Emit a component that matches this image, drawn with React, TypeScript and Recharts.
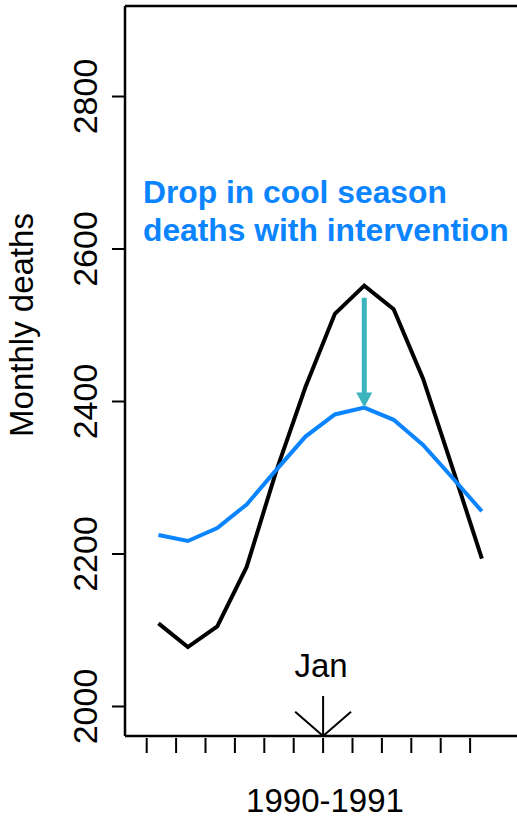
import { LineChart, Line, XAxis, YAxis, ReferenceLine, ReferenceDot } from 'recharts';

const FONT = '"Liberation Sans", Arial, Helvetica, sans-serif';

// months of the 1990-1991 season, ticks sit at month starts, points a little after
const months = ['Jul', 'Aug', 'Sep', 'Oct', 'Nov', 'Dec', 'Jan', 'Feb', 'Mar', 'Apr', 'May', 'Jun'];
const monthTicks = [0, 1, 2, 3, 4, 5, 6, 7, 8, 9, 10, 11];
const pointOffset = 0.4;

const observedDeaths = [2109, 2078, 2105, 2183, 2308, 2419, 2515, 2552, 2521, 2430, 2313, 2194];
const interventionDeaths = [2225, 2217, 2234, 2265, 2310, 2354, 2383, 2392, 2376, 2343, 2300, 2256];

const yTicks = [2000, 2200, 2400, 2600, 2800];
const yDomain: [number, number] = [1961.3, 2918.7];
const xDomain: [number, number] = [-0.738, 12.595];

const BLUE = '#0A84FF';
const TEAL = '#3BB4BE';

const data = months.map((m, i) => ({
  month: m,
  x: monthTicks[i] + pointOffset,
  observed: observedDeaths[i],
  intervention: interventionDeaths[i],
}));

function XTick(props: any) {
  const { x, y } = props;
  return <line x1={x} y1={y + 2} x2={x} y2={y + 17} stroke="#000" strokeWidth={2} />;
}

function YTick(props: any) {
  const { x, y, payload } = props;
  const bx = x - 15;
  return (
    <text
      x={bx}
      y={y}
      transform={`rotate(-90 ${bx} ${y})`}
      textAnchor="middle"
      fontFamily={FONT}
      fontSize={34}
      fill="#000"
    >
      {payload.value}
    </text>
  );
}

function ArrowShape(props: any) {
  const { x1, y1, x2, y2 } = props;
  const head = 15;
  return (
    <g>
      <line x1={x1} y1={y1} x2={x2} y2={y2 - head + 1} stroke={TEAL} strokeWidth={5} />
      <polygon points={`${x2 - 8},${y2 - head} ${x2 + 8},${y2 - head} ${x2},${y2}`} fill={TEAL} />
    </g>
  );
}

export default function App() {
  return (
    <div style={{ position: 'absolute', left: 0, top: 0, width: 517, height: 820, background: '#fff' }}>
      <LineChart width={517} height={820} data={data} margin={{ top: 6, right: 0, bottom: 0, left: 0 }}>
        <XAxis
          type="number"
          dataKey="x"
          domain={xDomain}
          allowDataOverflow
          ticks={monthTicks}
          interval={0}
          tickSize={0}
          tickMargin={0}
          tickLine={false}
          tick={<XTick />}
          axisLine={{ stroke: '#000', strokeWidth: 2.5 }}
          height={84}
          label={(p: any) => {
            const vb = p.viewBox;
            return (
              <text x={vb.x + vb.width / 2 + 4} y={812} textAnchor="middle" fontFamily={FONT} fontSize={33} fill="#000">
                1990-1991
              </text>
            );
          }}
        />
        <YAxis
          type="number"
          domain={yDomain}
          allowDataOverflow
          ticks={yTicks}
          interval={0}
          tickSize={13}
          tickMargin={0}
          tickLine={{ stroke: '#000', strokeWidth: 2 }}
          tick={<YTick />}
          axisLine={{ stroke: '#000', strokeWidth: 2.5 }}
          width={125}
          label={() => (
            <text x={33} y={325} transform="rotate(-90 33 325)" textAnchor="middle" fontFamily={FONT} fontSize={33} fill="#000">
              Monthly deaths
            </text>
          )}
        />
        <ReferenceLine y={yDomain[1]} stroke="#000" strokeWidth={2.5} ifOverflow="visible" />
        <Line type="linear" dataKey="observed" stroke="#000" strokeWidth={4} dot={false} isAnimationActive={false} />
        <Line type="linear" dataKey="intervention" stroke={BLUE} strokeWidth={4} dot={false} isAnimationActive={false} />
        <ReferenceLine
          segment={[{ x: 7 + pointOffset, y: 2536 }, { x: 7 + pointOffset, y: 2392 }]}
          shape={ArrowShape}
          ifOverflow="visible"
        />
        <ReferenceLine segment={[{ x: 6, y: 2013.8 }, { x: 6, y: 1961.3 }]} stroke="#000" strokeWidth={2} ifOverflow="visible" />
        <ReferenceLine segment={[{ x: 5.05, y: 1993 }, { x: 6, y: 1961.3 }]} stroke="#000" strokeWidth={2} ifOverflow="visible" />
        <ReferenceLine segment={[{ x: 6.95, y: 1993 }, { x: 6, y: 1961.3 }]} stroke="#000" strokeWidth={2} ifOverflow="visible" />
        <ReferenceDot
          x={6}
          y={2039}
          ifOverflow="visible"
          shape={(p: any) => (
            <text x={p.cx - 2} y={p.cy} textAnchor="middle" fontFamily={FONT} fontSize={33} fill="#000">
              Jan
            </text>
          )}
        />
        <ReferenceDot
          x={-0.126}
          y={2660.3}
          ifOverflow="visible"
          shape={(p: any) => (
            <text x={p.cx} y={p.cy} fontFamily={FONT} fontSize={31.8} fontWeight="bold" fill={BLUE}>
              <tspan x={p.cx}>Drop in cool season</tspan>
              <tspan x={p.cx} dy={37.5}>deaths with intervention</tspan>
            </text>
          )}
        />
      </LineChart>
    </div>
  );
}
